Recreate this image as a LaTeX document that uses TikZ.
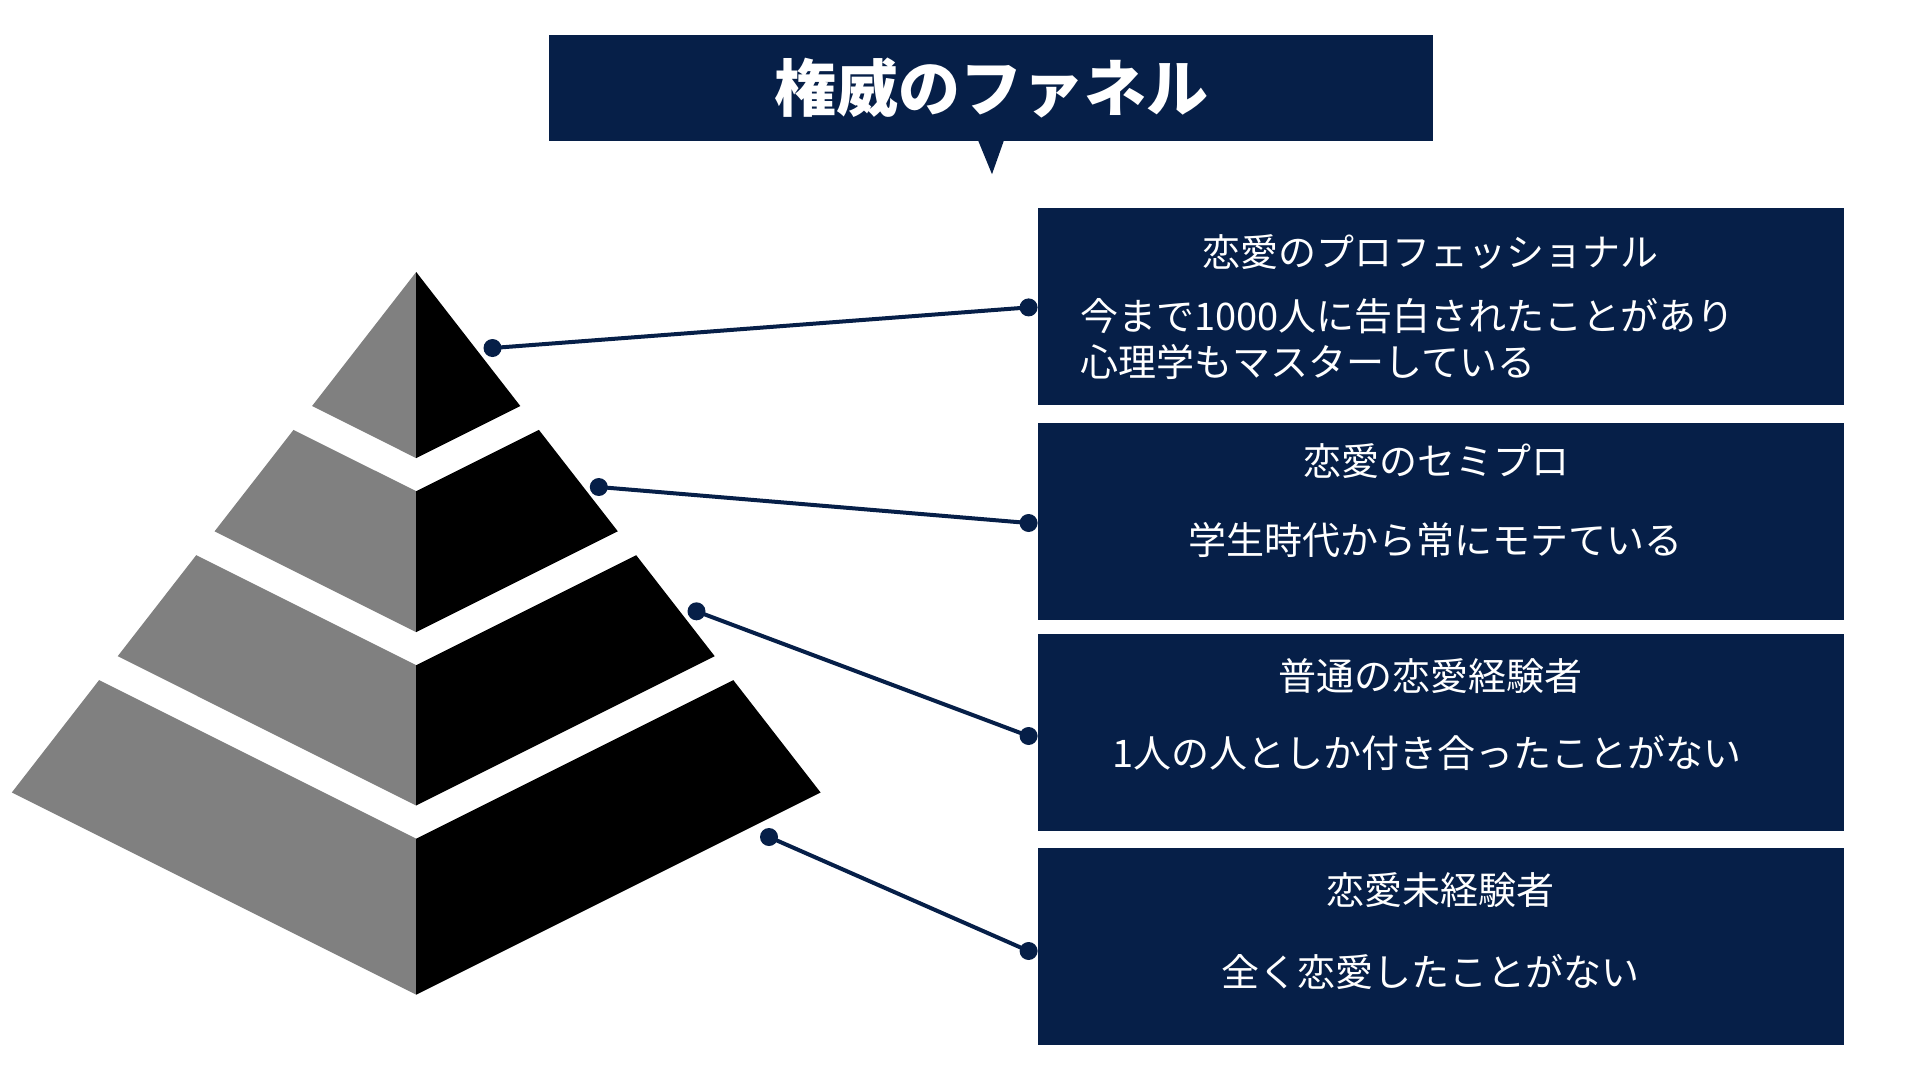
\documentclass[tikz,border=0pt]{standalone}
\usepackage{fontspec}
\newfontfamily\jp{Noto Sans CJK JP}
\definecolor{navy}{HTML}{061F48}
\definecolor{pgray}{HTML}{808080}
\begin{document}
\begin{tikzpicture}[x=1pt,y=-1pt,
  titlebox/.style={fill=navy, draw=none, minimum width=884pt, minimum height=106pt, inner sep=0,
    text=white, font=\jp\bfseries\fontsize{62}{70}\selectfont},
  infobox/.style={fill=navy, draw=none, minimum width=806pt, minimum height=197pt, inner sep=0, anchor=north west},
  label/.style={text=white, inner sep=0, font=\jp\fontsize{38}{46}\selectfont},
  dotnode/.style={circle, fill=navy, draw=none, minimum size=18pt, inner sep=0},
  link/.style={draw=navy, line width=4pt},
  leftface/.style={fill=pgray, draw=none},
  rightface/.style={fill=black, draw=none}]
\useasboundingbox (0,0) rectangle (1920,1080);
\fill[white] (0,0) rectangle (1920,1080);

% title
\node[titlebox] (title) at (991,88) {権威のファネル};
\fill[navy] ([xshift=-13pt,yshift=1pt]title.south) -- ([xshift=13pt,yshift=1pt]title.south) -- ([xshift=1pt,yshift=-33pt]title.south) -- cycle;

% pyramid
\fill[leftface] (416.2,272) -- (416.2,458.1) -- (312.1,406) -- cycle;
\fill[rightface] (416.2,272) -- (520.3,406) -- (416.2,458.1) -- cycle;
\fill[leftface] (293.5,429.9) -- (416.2,491.2) -- (416.2,632.1) -- (214.6,531.3) -- cycle;
\fill[rightface] (538.9,429.9) -- (416.2,491.2) -- (416.2,632.1) -- (617.8,531.3) -- cycle;
\fill[leftface] (196.2,555.2) -- (416.2,665.2) -- (416.2,805.5) -- (117.7,656.2) -- cycle;
\fill[rightface] (636.2,555.2) -- (416.2,665.2) -- (416.2,805.5) -- (714.7,656.2) -- cycle;
\fill[leftface] (99.1,680.1) -- (416.2,838.7) -- (416.2,994.7) -- (11.8,792.5) -- cycle;
\fill[rightface] (733.3,680.1) -- (416.2,838.7) -- (416.2,994.7) -- (820.6,792.5) -- cycle;

% boxes
\node[infobox] (b1) at (1038,208) {};
\node[infobox] (b2) at (1038,422.5) {};
\node[infobox] (b3) at (1038,634) {};
\node[infobox] (b4) at (1038,847.5) {};

\node[label] (h1) at (1430,252) {恋愛のプロフェッショナル};
\node[label, anchor=west] (t1a) at (1080,316) {今まで1000人に告白されたことがあり};
\node[label, anchor=west] (t1b) at (1080,362) {心理学もマスターしている};
\node[label] (h2) at (1436,461) {恋愛のセミプロ};
\node[label] (t2) at (1435,540) {学生時代から常にモテている};
\node[label] (h3) at (1430,676) {普通の恋愛経験者};
\node[label] (t3) at (1427,753) {1人の人としか付き合ったことがない};
\node[label] (h4) at (1440,890) {恋愛未経験者};
\node[label] (t4) at (1430,972) {全く恋愛したことがない};

% connectors
\node[dotnode] (d1a) at (492.5,348) {};
\node[dotnode] (d1b) at (1028.6,307.4) {};
\node[dotnode] (d2a) at (598.8,487) {};
\node[dotnode] (d2b) at (1028.6,523) {};
\node[dotnode] (d3a) at (696.5,611.3) {};
\node[dotnode] (d3b) at (1028.6,736) {};
\node[dotnode] (d4a) at (769,837) {};
\node[dotnode] (d4b) at (1028.6,951) {};
\draw[link] (d1a.center) -- (d1b.center);
\draw[link] (d2a.center) -- (d2b.center);
\draw[link] (d3a.center) -- (d3b.center);
\draw[link] (d4a.center) -- (d4b.center);
\end{tikzpicture}
\end{document}
